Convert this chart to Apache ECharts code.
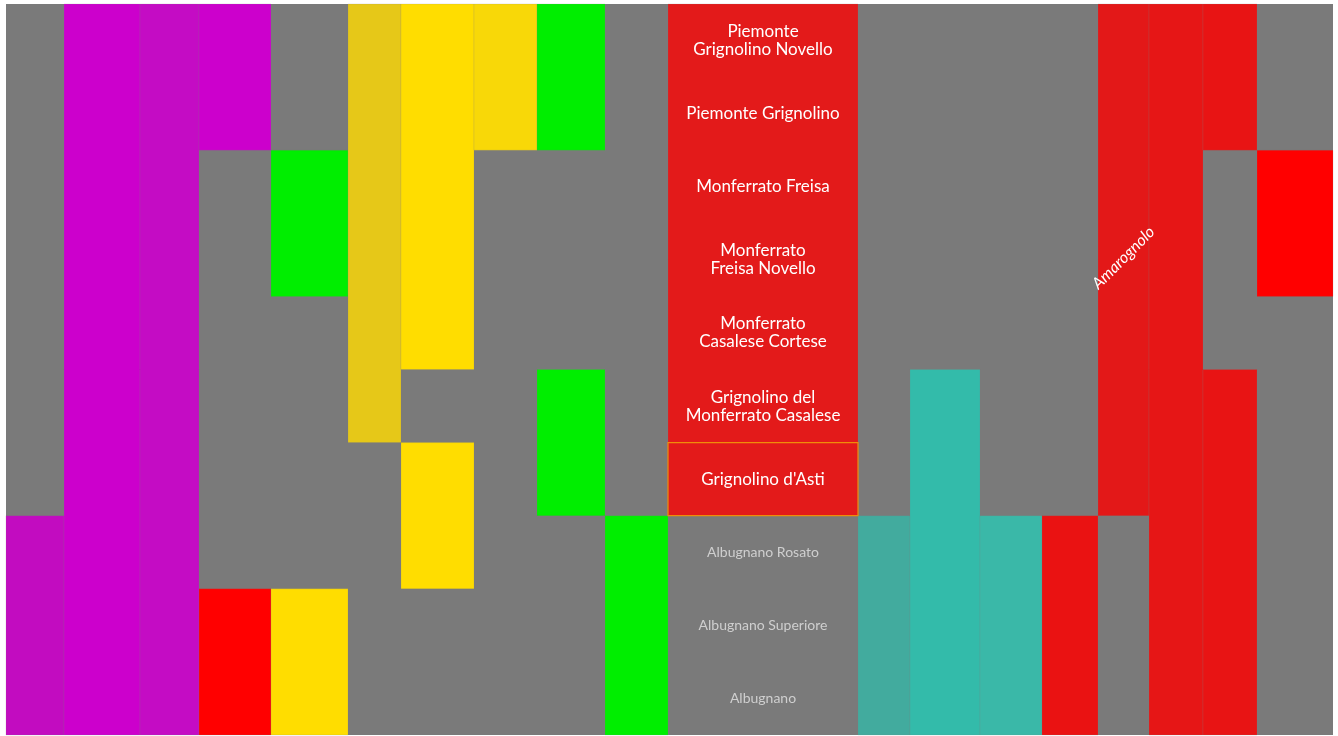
<!DOCTYPE html>
<html>
<head>
<meta charset="utf-8">
<script src="https://cdn.jsdelivr.net/npm/echarts@6/dist/echarts.min.js"></script>
<style>html,body{margin:0;padding:0;background:#fff}#main{width:1338px;height:736px}</style>
</head>
<body>
<div id="main"></div>
<script>
// Wines (rows, top to bottom)
const wines = ['Piemonte Grignolino Novello','Piemonte Grignolino','Monferrato Freisa','Monferrato Freisa Novello','Monferrato Casalese Cortese','Grignolino del Monferrato Casalese',"Grignolino d'Asti",'Albugnano Rosato','Albugnano Superiore','Albugnano'];
const wineLabels = ['Piemonte\nGrignolino Novello','Piemonte Grignolino','Monferrato Freisa','Monferrato\nFreisa Novello','Monferrato\nCasalese Cortese','Grignolino del\nMonferrato Casalese',"Grignolino d'Asti",'Albugnano Rosato','Albugnano Superiore','Albugnano'];
// highlighted wine rows in label column (white text on red) ; others gray text
const wineHighlighted = [1,1,1,1,1,1,1,0,0,0];
const selectedWine = 6;
// column widths (data units)
const colWidths = [58,76,59,72,77,53,73,63,68,63,190,52,70,62,56,51,54,54,76];
const labelCol = 10;
// palette
const palette = {
  m1:'#cc00cc', m2:'#c20cc0', m3:'#c40cc4',
  g:'#00ee00',
  r1:'#ff0000', r2:'#ea1212', r3:'#e31818', r4:'#e61616', r5:'#e81414', rl:'#e31a1a',
  y1:'#ffdd00', y2:'#f8d808', y3:'#e6c818',
  t1:'#42ab9e', t2:'#33bbaa', t3:'#3ab8a8'
};
// per column: runs [rowStart, rowEnd, colorKey]
const colRuns = [
  [[7,9,'m2']],
  [[0,9,'m1']],
  [[0,9,'m3']],
  [[0,1,'m1'],[8,9,'r1']],
  [[2,3,'g'],[8,9,'y1']],
  [[0,5,'y3']],
  [[0,4,'y1'],[6,7,'y1']],
  [[0,1,'y2']],
  [[0,1,'g'],[5,6,'g']],
  [[7,9,'g']],
  [[0,6,'rl']],
  [[7,9,'t1']],
  [[5,9,'t2']],
  [[7,9,'t3']],
  [[7,9,'r2']],
  [[0,6,'r3']],
  [[0,9,'r4']],
  [[0,1,'r5'],[5,9,'r5']],
  [[2,3,'r1']]
];
// grape annotation: [column, row, text]
const grapeNotes = [[15,3,'Amarognolo']];

// build data
const colStart = [];
let acc = 0;
colWidths.forEach(w => { colStart.push(acc); acc += w; });
const total = acc;
const cellData = [];
colRuns.forEach((runs, c) => runs.forEach(r => cellData.push([colStart[c], colStart[c]+colWidths[c], r[0], r[1], r[2]])));
const labelData = wines.map((w, i) => [colStart[labelCol], colStart[labelCol]+colWidths[labelCol], i, wineHighlighted[i]]);
const noteData = grapeNotes.map(n => [colStart[n[0]] + colWidths[n[0]]/2, n[1], n[2]]);

const chart = echarts.init(document.getElementById('main'));
chart.setOption({
  backgroundColor:'#ffffff',
  animation:false,
  grid:{left:6, right:5, top:4, bottom:1, show:true, backgroundColor:'#7a7a7a', borderWidth:0},
  xAxis:{type:'value', min:0, max:total, show:false},
  yAxis:{type:'category', data:wines, inverse:true, show:false},
  series:[
    {
      type:'custom', data:cellData,
      renderItem:(params, api) => {
        const d = cellData[params.dataIndex];
        const h = api.size([0,1])[1];
        const p0 = api.coord([d[0], d[2]]);
        const p1 = api.coord([d[1], d[3]]);
        return {type:'rect', shape:{x:p0[0], y:p0[1]-h/2, width:p1[0]-p0[0], height:p1[1]-p0[1]+h},
          style:{fill:palette[d[4]], stroke:'rgba(128,128,128,0.35)', lineWidth:0.5}};
      }
    },
    {
      type:'custom', data:labelData, z:3,
      renderItem:(params, api) => {
        const d = labelData[params.dataIndex];
        const h = api.size([0,1])[1];
        const p0 = api.coord([d[0], d[2]]);
        const p1 = api.coord([d[1], d[2]]);
        const hl = d[3] === 1;
        const children = [];
        if (d[2] === selectedWine) children.push({type:'rect', shape:{x:p0[0], y:p0[1]-h/2, width:p1[0]-p0[0], height:h},
          style:{fill:'none', stroke:'#f08c0a', lineWidth:1.2}});
        children.push({type:'text', x:(p0[0]+p1[0])/2, y:p0[1],
          style:{text:wineLabels[d[2]], fill: hl ? '#ffffff' : '#cfcfcf', align:'center', verticalAlign:'middle',
            font: hl ? '17px Lato' : '14px Lato', lineHeight: hl ? 18 : 15}});
        return {type:'group', children};
      }
    },
    {
      type:'custom', data:noteData, z:3,
      renderItem:(params, api) => {
        const d = noteData[params.dataIndex];
        const p = api.coord([d[0], d[1]]);
        return {type:'text', x:p[0], y:p[1]-2, rotation:Math.PI/4,
          style:{text:d[2], fill:'#ffffff', align:'center', verticalAlign:'middle', font:'italic 16px Lato'}};
      }
    }
  ]
});
</script>
</body>
</html>
